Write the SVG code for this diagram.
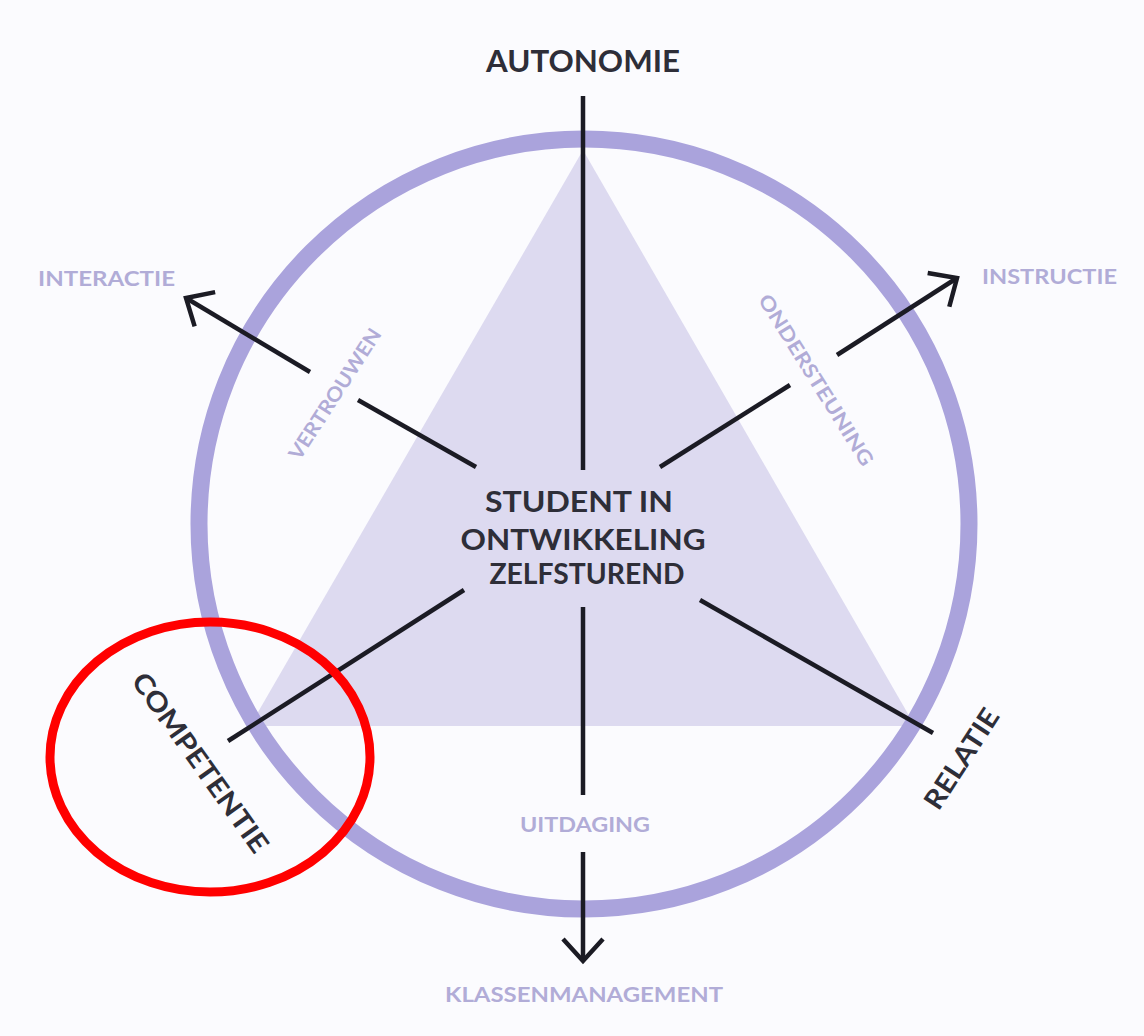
<svg xmlns="http://www.w3.org/2000/svg" width="1144" height="1036" viewBox="0 0 1144 1036">
<style>
.dark{font-family:Lato,"Open Sans",sans-serif;font-weight:700;fill:#2e2e38}
.light{font-family:Lato,"Open Sans",sans-serif;font-weight:700;fill:#b1acd7;font-size:20px}
.ln{stroke:#1b1b24;stroke-width:4.5;fill:none}
</style>
<defs>
<marker id="chev" markerUnits="userSpaceOnUse" markerWidth="60" markerHeight="60" viewBox="-30 -30 60 60" refX="0" refY="0" orient="auto">
<path d="M-22,-20 L0,0 L-22,20" fill="none" stroke="#1b1b24" stroke-width="4.5"/>
</marker>
</defs>
<rect width="1144" height="1036" fill="#fbfbfe"/>
<g id="triangle"><polygon points="583,150 250,726 915,726" fill="#dddaf0"/></g>
<g id="ring"><circle cx="584" cy="524" r="385" fill="none" stroke="#aaa3dc" stroke-width="17"/></g>
<g id="connectors">
<line class="ln" x1="583" y1="96" x2="583" y2="470"/>
<line class="ln" x1="583" y1="607" x2="583" y2="795"/>
<line class="ln" x1="583" y1="852" x2="583" y2="961" marker-end="url(#chev)"/>
<line class="ln" x1="476" y1="467" x2="358" y2="400"/>
<line class="ln" x1="310" y1="372" x2="186" y2="298" marker-end="url(#chev)"/>
<line class="ln" x1="660" y1="467" x2="790" y2="385"/>
<line class="ln" x1="837" y1="355" x2="957" y2="278" marker-end="url(#chev)"/>
<line class="ln" x1="464" y1="590" x2="228" y2="741"/>
<line class="ln" x1="700" y1="600" x2="933" y2="733"/>
</g>
<g id="autonomie"><text class="dark" x="583" y="72" font-size="30" text-anchor="middle" textLength="194" lengthAdjust="spacingAndGlyphs">AUTONOMIE</text></g>
<g id="center">
<text class="dark" x="579" y="512" font-size="29" text-anchor="middle" textLength="188" lengthAdjust="spacingAndGlyphs">STUDENT IN</text>
<text class="dark" x="583" y="550" font-size="29" text-anchor="middle" textLength="245" lengthAdjust="spacingAndGlyphs">ONTWIKKELING</text>
<text class="dark" x="587" y="584" font-size="29" text-anchor="middle" textLength="195" lengthAdjust="spacingAndGlyphs">ZELFSTUREND</text>
</g>
<g id="interactie"><text class="light" x="38" y="286" textLength="137" lengthAdjust="spacingAndGlyphs">INTERACTIE</text></g>
<g id="instructie"><text class="light" x="982" y="284" textLength="135" lengthAdjust="spacingAndGlyphs">INSTRUCTIE</text></g>
<g id="uitdaging"><text class="light" x="520" y="832" textLength="130" lengthAdjust="spacingAndGlyphs">UITDAGING</text></g>
<g id="klassenmanagement"><text class="light" x="445" y="1002" textLength="278" lengthAdjust="spacingAndGlyphs">KLASSENMANAGEMENT</text></g>
<g id="vertrouwen"><text class="light" transform="translate(335,394) rotate(-57)" x="0" y="7" text-anchor="middle" textLength="152" lengthAdjust="spacingAndGlyphs">VERTROUWEN</text></g>
<g id="ondersteuning"><text class="light" transform="translate(816,380) rotate(58)" x="0" y="7" text-anchor="middle" textLength="198" lengthAdjust="spacingAndGlyphs">ONDERSTEUNING</text></g>
<g id="competentie"><text class="dark" font-size="27" transform="translate(200,763) rotate(54.5)" x="0" y="9" text-anchor="middle" textLength="214" lengthAdjust="spacingAndGlyphs">COMPETENTIE</text></g>
<g id="relatie"><text class="dark" font-size="27" transform="translate(962,759) rotate(-57)" x="0" y="9" text-anchor="middle" textLength="114" lengthAdjust="spacingAndGlyphs">RELATIE</text></g>
<g id="highlight"><ellipse cx="210" cy="757" rx="160" ry="135" fill="none" stroke="#ff0000" stroke-width="9"/></g>
</svg>
